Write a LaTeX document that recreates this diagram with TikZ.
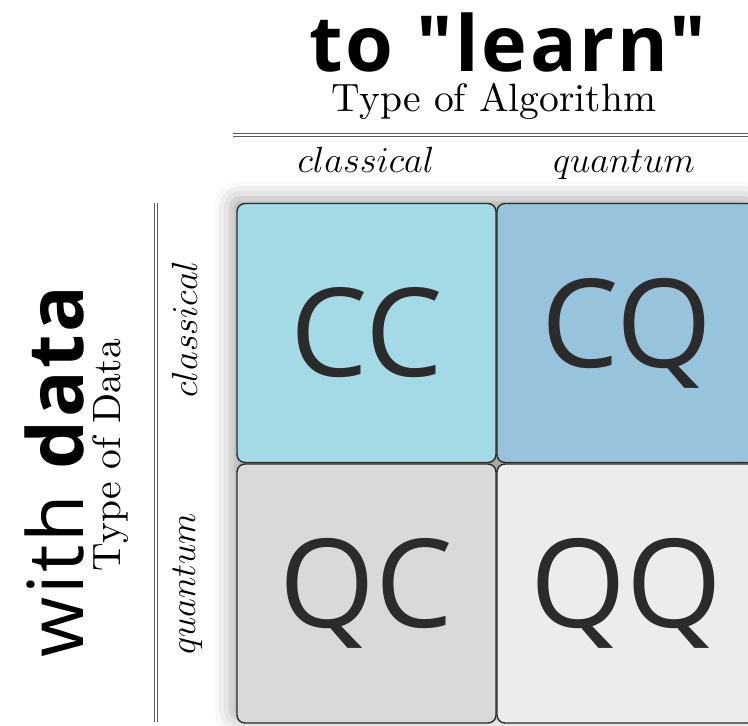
\documentclass[tikz,border=0pt]{standalone}
\usepackage{fontspec}
\newfontfamily\headfont{Open Sans}[Ligatures=TeXOff, LetterSpace=3.5]
\newfontfamily\cellfont{Open Sans}
\usetikzlibrary{shadows.blur}
\definecolor{ccblue}{HTML}{A4DAE6}
\definecolor{cqblue}{HTML}{97C3DD}
\definecolor{qcgray}{HTML}{D9D9D9}
\definecolor{qqgray}{HTML}{ECECEC}
\definecolor{inkgray}{HTML}{2B2B2B}
\newcommand{\axislabel}[1]{\scalebox{2.25}{#1}}

\begin{document}
\begin{tikzpicture}[
    x=0.02cm, y=-0.02cm,
    head/.style={font=\headfont\fontsize{44}{44}\selectfont, anchor=base, inner sep=0pt},
    axis/.style={font=\normalsize, anchor=base, inner sep=0pt},
    kind/.style={font=\fontsize{22.5}{24}\selectfont, anchor=base, inner sep=0pt},
    rule/.style={draw=black!65, line width=0.6pt, double=white, double distance=1.1pt},
    cell/.style={draw=inkgray, line width=0.8pt, rounded corners=4.5pt, minimum width=5.18cm,
        minimum height=5.18cm, inner sep=0pt, text=inkgray, font=\cellfont\fontsize{70}{70}\selectfont},
]
\useasboundingbox (0,0) rectangle (748,726);
\clip (0,0) rectangle (748,726);
% ----- algorithm axis on top
\node[head] (learn) at (508,72) {\bfseries to "learn"};
\node[axis] (algo) at (494,112) {\axislabel{Type of Algorithm}};
\draw[rule] (233,135) -- (770,135);
\node[kind] (algc) at (366,173) {$classical$};
\node[kind] (algq) at (624,173) {$quantum$};
% ----- data axis on the left
\node[head, rotate=90] (withdata) at (83,470) {with \textbf{data}};
\node[axis, rotate=90] (datatype) at (120,455) {\axislabel{Type of Data}};
\draw[rule] (156,203) -- (156,722);
\node[kind, rotate=90] (datc) at (197,329) {$classical$};
\node[kind, rotate=90] (datq) at (195,584) {$quantum$};
% ----- the four cells
\path[rounded corners=4.5pt, blur shadow={shadow xshift=-3pt, shadow yshift=3pt,
    shadow blur radius=10pt, shadow opacity=35}] (237,204) rectangle (756,723);
\node[cell, fill=ccblue] (cc) at (366.5,333) {CC};
\node[cell, fill=cqblue] (cq) at (626.5,333) {CQ};
\node[cell, fill=qcgray] (qc) at (366.5,593.5) {QC};
\node[cell, fill=qqgray] (qq) at (626.5,593.5) {QQ};
\end{tikzpicture}
\end{document}
